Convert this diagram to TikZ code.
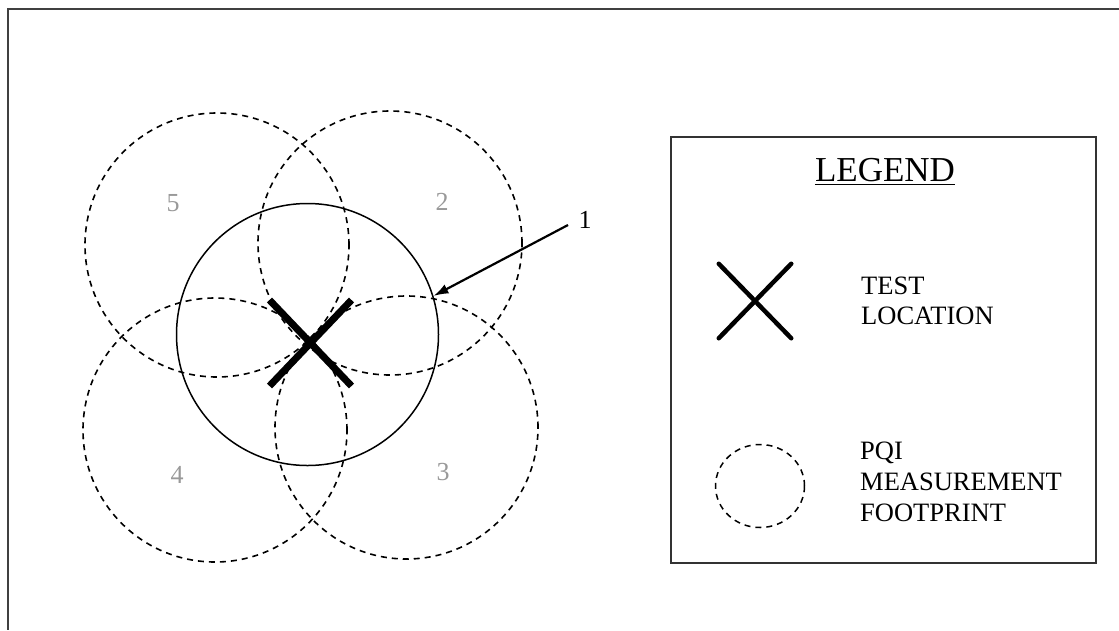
\documentclass[tikz,border=0pt]{standalone}
\usepackage{fontspec}
\setmainfont{Liberation Serif}
\usetikzlibrary{shapes.geometric,shapes.misc,arrows.meta}
\begin{document}
\begin{tikzpicture}[x=1pt,y=-1pt,
  footprint/.style={circle, draw=black, dash pattern=on 6pt off 5pt, line width=1.6pt, inner sep=0pt, minimum size=264pt},
  testcircle/.style={circle, draw=black, line width=1.5pt, inner sep=0pt, minimum size=262pt},
  num/.style={text=black!40, font=\fontsize{26}{30}\selectfont, inner sep=0pt},
  legtext/.style={font=\fontsize{26.5}{30}\selectfont, anchor=base west, inner sep=0pt},
  xmark/.style={cross out, draw=black, inner sep=0pt},
  leader/.style={line width=2.2pt, -{Latex[length=15pt,width=10pt]}}
]
\useasboundingbox (0,0) rectangle (1119,630);
% outer frame (top and left only)
\draw[line width=2pt, black!75] (1119,9) -- (8,9) -- (8,630);

% footprints
\node[footprint] (c5) at (217,245) {};
\node[footprint] (c2) at (390,243) {};
\node[footprint] (c4) at (215,430) {};
\node[footprint, minimum size=263pt] (c3) at (406.5,427.5) {};
% test circle
\node[testcircle] (main) at (307.5,334.5) {};
% test location X
\node[xmark, line width=7pt, minimum width=75pt, minimum height=79pt] (tx) at (310.5,343) {};

% numbers
\node[num] (n5) at (173,203) {5};
\node[num] (n2) at (442,202) {2};
\node[num] (n4) at (177,475) {4};
\node[num] (n3) at (443,472) {3};
\node[num, text=black] (n1) at (585,220) {1};
\coordinate (a1) at (568,225);
\draw[leader] (a1) -- (main.17.5);

% legend
\node[draw=black!80, line width=1.5pt, minimum width=425pt, minimum height=426pt, inner sep=0pt] (legend) at (883.5,350) {};
\node[font=\fontsize{35}{40}\selectfont, anchor=base, inner sep=0pt] (legtitle) at (885,181) {LEGEND};
\draw[line width=1.5pt] ([yshift=-3.5pt]legtitle.base west) -- ([yshift=-3.5pt]legtitle.base east);

\node[xmark, line width=4.5pt, line cap=round, minimum width=68pt, minimum height=70pt] (legx) at (755,301) {};
\node[legtext] (t1) at (861,294) {TEST};
\node[legtext] (t2) at (861,324) {LOCATION};

\node[ellipse, draw=black, dash pattern=on 6pt off 5pt, line width=1.5pt, inner sep=0pt, minimum width=89pt, minimum height=83pt] (legc) at (760,486) {};
\node[legtext] (p1) at (860,459) {PQI};
\node[legtext] (p2) at (860,490) {MEASUREMENT};
\node[legtext] (p3) at (860,521) {FOOTPRINT};
\end{tikzpicture}
\end{document}
